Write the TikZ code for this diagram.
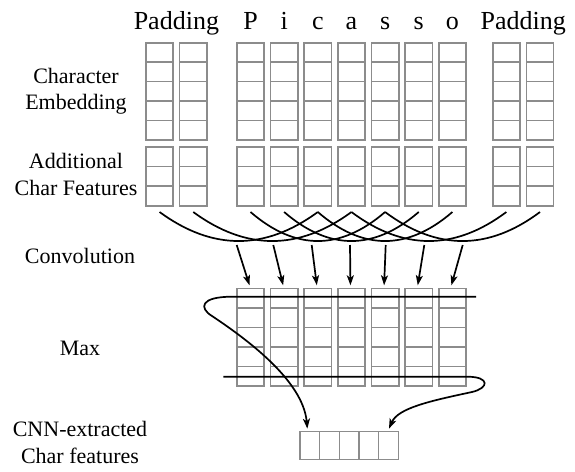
\documentclass[tikz,border=0pt]{standalone}
\usepackage{fontspec}
\setmainfont{Liberation Serif}
\usetikzlibrary{arrows.meta,calc}
\definecolor{boxgray}{RGB}{140,140,140}
\begin{document}
\begin{tikzpicture}[x=1pt,y=-1pt,
  cell/.style={draw=boxgray,line width=1.6pt,minimum width=27.3pt,minimum height=#1,inner sep=0pt,outer sep=0pt},
  ocell/.style={draw=boxgray,line width=1.6pt,minimum width=19.66pt,minimum height=27.7pt,inner sep=0pt,outer sep=0pt},
  toplbl/.style={anchor=base,inner sep=0pt,font=\fontsize{26}{30}\selectfont},
  sidelbl/.style={anchor=base,inner sep=0pt,font=\fontsize{22}{26}\selectfont},
  conv/.style={line width=1.7pt,black},
  arr/.style={line width=1.7pt,black,-{Stealth[length=10pt,width=7pt,inset=2.5pt]}},
  maxline/.style={line width=1.7pt,black}]
\useasboundingbox (0,0) rectangle (575,471);

% input columns
\foreach \j/\x in {1/159.6,2/193.25,3/250.5,4/284.15,5/317.8,6/351.45,7/385.1,8/418.75,9/452.4,10/506.35,11/540}{
  \foreach \k in {1,...,5}{
    \node[cell=19.46pt] (e-\j-\k) at (\x,{42.7+19.46*(\k-0.5)}) {};
  }
  \foreach \k in {1,2,3}{
    \node[cell=19.77pt] (f-\j-\k) at (\x,{146.7+19.77*(\k-0.5)}) {};
  }
  \coordinate (t\j) at (\x,212);
}

% top labels
\node[toplbl] (padl) at (176.4,29.5) {Padding};
\node[toplbl] (padr) at (523.2,29.5) {Padding};
\foreach \j/\x/\c in {3/250.5/P,4/284.15/i,5/317.8/c,6/351.45/a,7/385.1/s,8/418.75/s,9/452.4/o}{
  \node[toplbl] (ch-\j) at (\x,29.5) {\c};
}

% side labels
\node[sidelbl] (l1) at (76,83.3) {Character};
\node[sidelbl] (l2) at (76,109.3) {Embedding};
\node[sidelbl] (l3) at (76,168.3) {Additional};
\node[sidelbl] (l4) at (76,195) {Char Features};
\node[sidelbl] (l5) at (80,263.3) {Convolution};
\node[sidelbl] (l6) at (80,355) {Max};
\node[sidelbl] (l7) at (80,436.7) {CNN-extracted};
\node[sidelbl] (l8) at (80,463.3) {Char features};

% max columns
\foreach \i/\x in {1/250.5,2/284.15,3/317.8,4/351.45,5/385.1,6/418.75,7/452.4}{
  \foreach \k in {1,...,5}{
    \node[cell=19.54pt] (m-\i-\k) at (\x,{288.3+19.54*(\k-0.5)}) {};
  }
}

% output cells
\foreach \k in {1,...,5}{
  \node[ocell] (o-\k) at ({300+19.66*(\k-0.5)},445.5) {};
}

% convolution arcs
\foreach \a/\b in {1/5,2/6,3/7,4/8,5/9,6/10,7/11}{
  \draw[conv] (t\a) .. controls ($(t\a)!1/3!(t\b)+(0,38.7)$) and ($(t\a)!2/3!(t\b)+(0,38.7)$) .. (t\b);
}

% convolution arrows
\foreach \i/\x in {1/236.7,2/273.3,3/311.7,4/350,5/385.7,6/424.3,7/462.7}{
  \coordinate (s\i) at (\x,245);
  \draw[arr] (s\i) -- ($(m-\i-1.north)+(-1,-3)$);
}

% max lines
\coordinate (hr1) at (476,296.7);
\coordinate (hl2) at (223.3,376.7);
\draw[maxline,arr] (hr1) -- (232,296.7) .. controls (200,296.7) and (199,308) .. (212,316)
  .. controls (245,338) and (303,380) .. ($(o-1.north)+(-2.5,-3)$);
\draw[maxline,arr] (hl2) -- (468,376.7) .. controls (490,377) and (489,388) .. (472,392)
  .. controls (430,401) and (398,408) .. ($(o-5.north)+(0.5,-3)$);
\end{tikzpicture}
\end{document}
